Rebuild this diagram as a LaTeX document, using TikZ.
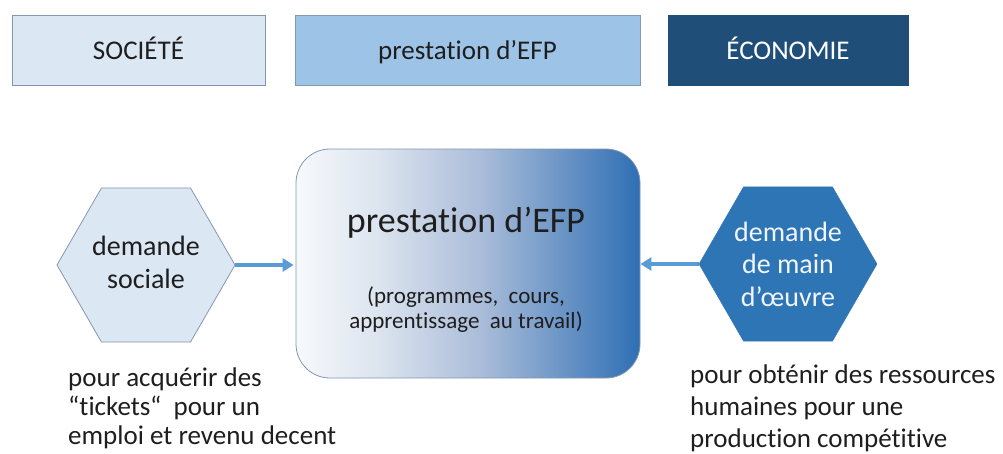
\documentclass[tikz,border=0pt]{standalone}
\usepackage{fontspec}
\setmainfont{Carlito}[Ligatures=NoCommon]
\usetikzlibrary{shapes.geometric,arrows.meta}

\definecolor{paleblue}{HTML}{DCE7F4}
\definecolor{midblue}{HTML}{9DC3E6}
\definecolor{navy}{HTML}{1F4E79}
\definecolor{hexblue}{HTML}{2E75B6}
\definecolor{arrowblue}{HTML}{5B9BD5}
\definecolor{edgegray}{HTML}{8497B0}
\definecolor{ink}{HTML}{1E1E1E}
\definecolor{paletext}{HTML}{F2F5FA}
% stops of the left-to-right fade in the central box
\definecolor{shA}{HTML}{F7F9FC}
\definecolor{shB}{HTML}{DCE4EF}
\definecolor{shC}{HTML}{A9BCD9}
\definecolor{shD}{HTML}{2F6FB4}
\pgfdeclarehorizontalshading{efpfade}{100bp}{color(0bp)=(shA); color(25bp)=(shA); color(37bp)=(shB); color(52bp)=(shC); color(75bp)=(shD); color(100bp)=(shD)}

\begin{document}
\begin{tikzpicture}[x=1pt,y=-1pt,
  topbox/.style={draw=edgegray, line width=0.8pt, minimum height=70pt, inner sep=0pt,
    text height=18pt, text depth=0pt, font=\fontsize{27}{32}\selectfont, text=ink},
  hexa/.style={regular polygon, regular polygon sides=6, minimum size=178pt, inner sep=0pt, outer sep=0pt},
  hextext/.style={anchor=base, align=center, inner sep=0pt, font=\fontsize{28}{32.5}\selectfont},
  flow/.style={draw=arrowblue, line width=3.5pt, -{Triangle[length=11pt,width=13pt,fill=arrowblue]}},
  note/.style={anchor=base west, align=left, inner sep=0pt, text=ink}
]
\useasboundingbox (0,0) rectangle (1003,453);

% header row
\node[topbox, fill=paleblue, minimum width=253pt] (societe) at (138.5,50) {SOCIÉTÉ};
\node[topbox, fill=midblue, minimum width=345pt] (prestop) at (467.5,50) {prestation d’EFP};
\node[topbox, fill=navy, draw=navy, text=white, minimum width=240pt] (economie) at (788,50) {ÉCONOMIE};

% central provision box
\node[draw=edgegray, line width=0.8pt, rounded corners=34pt, shading=efpfade,
      minimum width=344pt, minimum height=229pt, inner sep=0pt] (efp) at (468,263.5) {};
\node[anchor=base, inner sep=0pt, text=ink, font=\fontsize{36}{42}\selectfont] (efptitle) at (466,232) {prestation d’EFP};
% multi-line nodes below are placed by the baseline of their last line
\node[anchor=base, align=center, inner sep=0pt, text=ink, font=\fontsize{23}{25}\selectfont] (efpsub) at (466,328)
  {(programmes,~ cours,\\ apprentissage~ au travail)};

% demand hexagons
\node[hexa, fill=paleblue, draw=edgegray, line width=0.8pt] (social) at (146,265) {};
\node[hextext, text=ink] (socialtext) at (146,288) {demande\\ sociale};
\node[hexa, fill=hexblue, draw=hexblue] (labour) at (788,264) {};
\node[hextext, text=paletext] (labourtext) at (788,306) {demande\\ de main\\ d’œuvre};

% flows into the provision box
\draw[flow, shorten >=2pt] (social.east) -- (efp.west |- social.east);
\draw[flow] (labour.west) -- (efp.east |- labour.west);

% purposes
\node[note, font=\fontsize{27}{29}\selectfont] (socialnote) at (68,444)
  {pour acquérir des\\ “tickets“~ pour un\\ emploi et revenu decent};
\node[note, font=\fontsize{27}{32}\selectfont] (labournote) at (690,447)
  {pour obténir des ressources\\ humaines pour une\\ production compétitive};
\end{tikzpicture}
\end{document}
